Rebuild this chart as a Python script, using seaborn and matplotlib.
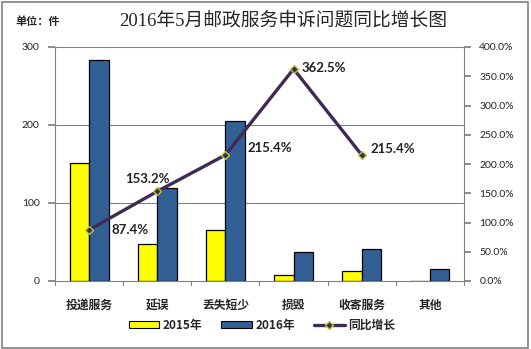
import matplotlib
matplotlib.use("Agg")
import matplotlib.pyplot as plt
import seaborn as sns
import pandas as pd
from matplotlib.patches import Rectangle, Patch
from matplotlib.lines import Line2D
from matplotlib.ticker import FuncFormatter, MultipleLocator

categories = ["投递服务", "延误", "丢失短少", "损毁", "收寄服务", "其他"]
values_2015 = [151, 47, 65, 8, 13, 0]
values_2016 = [283, 119, 205, 37, 41, 16]
growth_cats = ["投递服务", "延误", "丢失短少", "损毁", "收寄服务"]
growth = [87.4, 153.2, 215.4, 362.5, 215.4]
series_names = ["2015年", "2016年"]

sns.set_theme(style="white")
CJK = ["Noto Sans CJK SC", "DejaVu Sans"]
plt.rcParams["font.family"] = CJK
plt.rcParams["axes.unicode_minus"] = False

df = pd.DataFrame({
    "cat": categories * 2,
    "year": [series_names[0]] * len(categories) + [series_names[1]] * len(categories),
    "val": values_2015 + values_2016,
})

fig = plt.figure(figsize=(5.31, 3.49), dpi=100)
ax = fig.add_axes([55 / 531, 1 - 281 / 349, (464 - 55) / 531, (281 - 47) / 349])

sns.barplot(data=df, x="cat", y="val", hue="year", order=categories,
            palette=["#FFFF00", "#336094"], width=0.57, edgecolor="black",
            linewidth=0.9, ax=ax, legend=False, saturation=1)

ax.set_ylim(0, 300)
ax.set_xlim(-0.5, len(categories) - 0.5)
ax.yaxis.set_major_locator(MultipleLocator(100))
ax.set_xlabel("")
ax.set_ylabel("")
for y in (100, 200, 300):
    ax.axhline(y, color="#808080", lw=0.8, zorder=0)
for s in ("top", "right"):
    ax.spines[s].set_visible(False)
for s in ("left", "bottom"):
    ax.spines[s].set_color("#808080")
    ax.spines[s].set_linewidth(0.8)
ax.tick_params(axis="y", left=True, length=5, color="#808080", labelsize=7.5,
               pad=6, labelcolor="#222222")
for lab in ax.get_yticklabels():
    lab.set_family(["Lato", "DejaVu Sans"])
ax.set_xticks(range(len(categories)))
ax.set_xticklabels(categories, fontsize=8.5, fontweight="bold")
ax.tick_params(axis="x", bottom=False, pad=7)
for b in [i - 0.5 for i in range(len(categories) + 1)]:
    ax.plot([b, b], [0, -5], color="#808080", lw=0.8, clip_on=False,
            transform=ax.transData)

ax2 = ax.twinx()
ax2.set_ylim(0, 400)
ax2.yaxis.set_major_locator(MultipleLocator(50))
ax2.yaxis.set_major_formatter(FuncFormatter(lambda v, p: f"{v:.1f}%"))
ax2.tick_params(axis="y", right=True, length=5, color="#808080", labelsize=7.5,
                pad=6, labelcolor="#222222")
for lab in ax2.get_yticklabels():
    lab.set_family(["Lato", "DejaVu Sans"])
for s in ("top", "left", "bottom"):
    ax2.spines[s].set_visible(False)
ax2.spines["right"].set_color("#808080")
ax2.spines["right"].set_linewidth(0.8)
ax2.grid(False)

gx = [categories.index(c) for c in growth_cats]
gdf = pd.DataFrame({"x": gx, "g": growth})
sns.lineplot(data=gdf, x="x", y="g", ax=ax2, color="#3E2A55", lw=2.4,
             marker="D", markersize=4.5, markerfacecolor="#3E2A55",
             markeredgecolor="#B5C93A", markeredgewidth=1.0)
ax2.set_xlabel("")
ax2.set_ylabel("")
ax2.set_xlim(-0.5, len(categories) - 0.5)

offsets = [(16, 0, "left"), (-7, 8.6, "center"), (16, 5, "left"),
           (6, 0.7, "left"), (6.5, 4.3, "left")]
for x, g, (dx, dy, ha) in zip(gx, growth, offsets):
    ax2.annotate(f"{g:.1f}%", (x, g), xytext=(dx, dy), textcoords="offset points",
                 ha=ha, va="center", fontsize=9.5, fontweight="bold",
                 family=["Lato", "DejaVu Sans"], color="#222222")

fig.text(283 / 531, 1 - 21 / 349, "2016年5月邮政服务申诉问题同比增长图",
         ha="center", va="center", fontsize=13.5,
         family=["Liberation Serif", "Noto Sans CJK SC"])
fig.text(15 / 531, 1 - 22 / 349, "单位：件", ha="left", va="center",
         fontsize=8, fontweight="bold")

handles = [Patch(facecolor="#FFFF00", edgecolor="black", lw=0.8),
           Patch(facecolor="#336094", edgecolor="black", lw=0.8),
           Line2D([0], [0], color="#3E2A55", lw=2.4, marker="D", markersize=4,
                  markerfacecolor="#3E2A55", markeredgecolor="#B5C93A")]
leg = fig.legend(handles, ["2015年", "2016年", "同比增长"], loc="center",
                 bbox_to_anchor=(262 / 531, 1 - 325 / 349), ncol=3, frameon=False,
                 fontsize=8.5, handlelength=2.6, handleheight=0.5,
                 columnspacing=1.6, handletextpad=0.3)
for t in leg.get_texts():
    t.set_fontweight("bold")

fig.patches.append(Rectangle((0.003, 0.004), 0.992, 0.99, transform=fig.transFigure,
                             fill=False, edgecolor="#808080", lw=1.2))

fig.savefig("out.png", dpi=100)
